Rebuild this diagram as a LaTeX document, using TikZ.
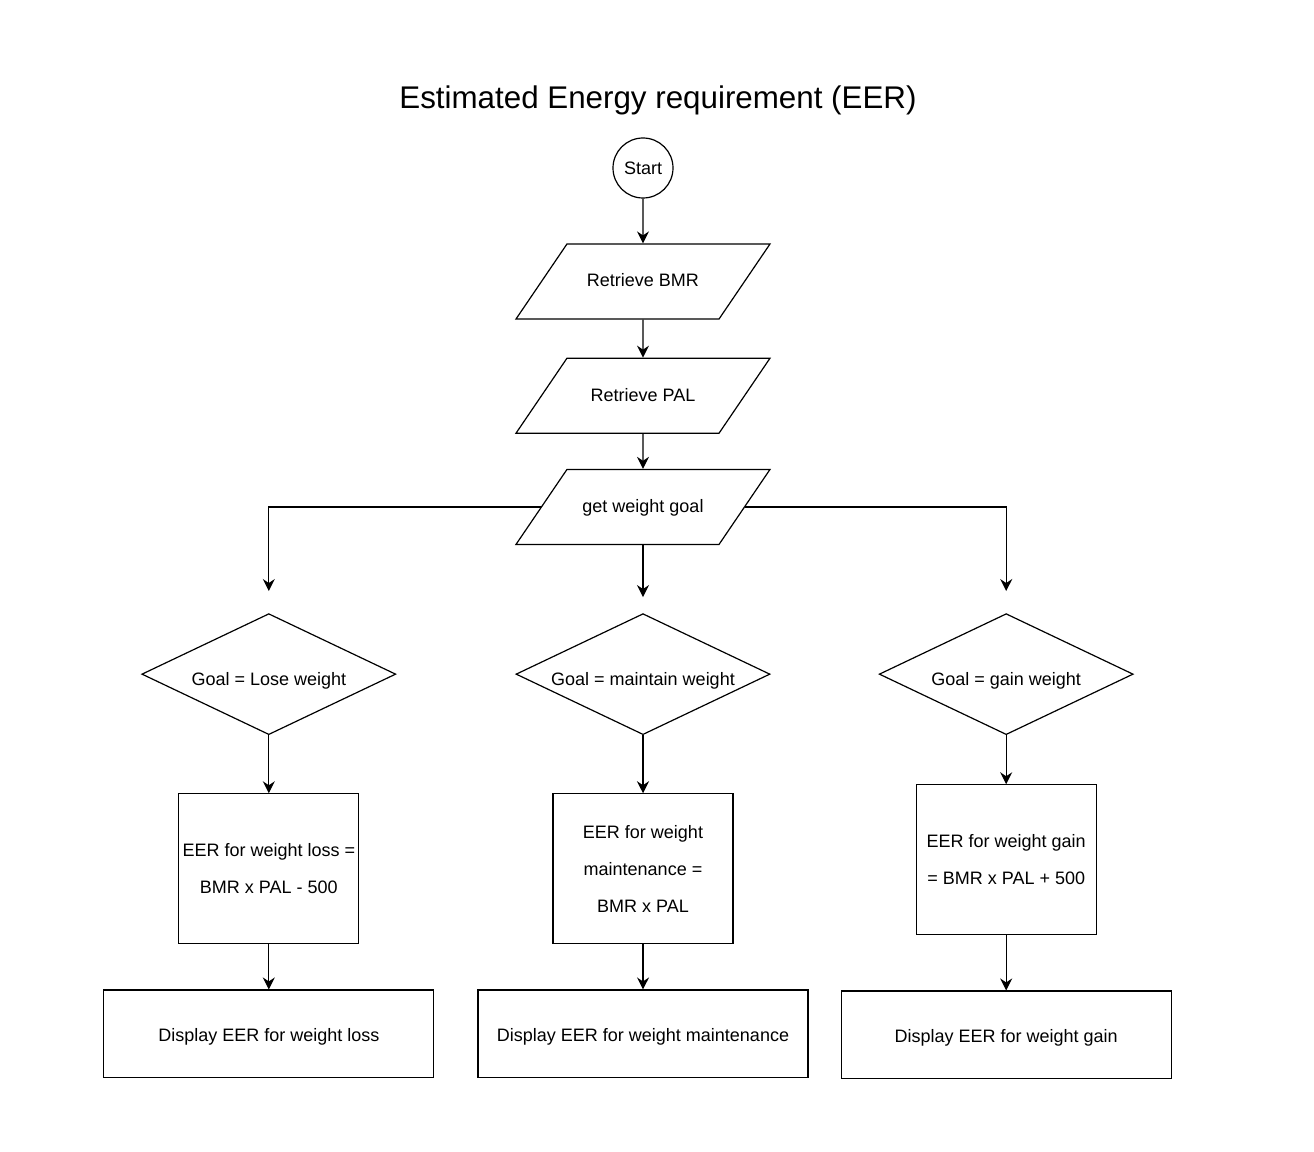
\documentclass[tikz,border=0pt]{standalone}
\usepackage{fontspec}
\setmainfont{Liberation Sans}
\usepackage{tikz}
\usetikzlibrary{positioning,arrows.meta,shapes.geometric}
\tikzset{
    flow start/.style={circle, draw, line width=0.9pt, minimum size=45pt, inner sep=0pt},
    flow io/.style={trapezium, trapezium stretches body=true, trapezium left angle=55.8, trapezium right angle=124.2, draw, line width=0.9pt, minimum width=190.5pt, text height=11pt, text depth=3pt, inner xsep=0pt, inner ysep=21.125pt},
    flow decision/.style={diamond, draw, line width=0.9pt, aspect=2.2, minimum width=190.5pt, minimum height=90.75pt, inner sep=0pt, text height=20pt, text depth=3pt},
    flow process/.style={rectangle, draw, line width=0.9pt, minimum width=135pt, minimum height=112.5pt, inner sep=2pt, align=center, text depth=0pt, font=\fontsize{13.5}{27.75}\selectfont},
    flow output/.style={rectangle, draw, line width=0.9pt, minimum width=247.5pt, minimum height=65.5pt, inner sep=2pt, text height=15pt, text depth=3pt},
    flow arrow/.style={-{Stealth[length=9pt, width=9pt, inset=3pt]}, line width=0.9pt}
}

\begin{document}
\begin{tikzpicture}[x=0.75pt, y=-0.75pt, font=\fontsize{13.5}{16}\selectfont]
\useasboundingbox (0,0) rectangle (1314,1152);

% Title
\node[font=\fontsize{23.5}{28}\selectfont] (title) at (658,100) {Estimated Energy requirement (EER)};

% Main column
\node[flow start] (start) at (643,168) {Start};
\node[flow io, below=33.6pt of start] (bmr) {Retrieve BMR};
\node[flow io, below=28.5pt of bmr] (pal) {Retrieve PAL};
\node[flow io, below=26.25pt of pal] (goal) {get weight goal};

% Decisions
\node[flow decision, below=51pt of goal] (maintain) {Goal = maintain weight};
\node[flow decision, left=89.25pt of maintain] (lose) {Goal = Lose weight};
\node[flow decision, right=81pt of maintain] (gain) {Goal = gain weight};

% Calculations
\node[flow process, below=43.5pt of lose] (calc loss) {EER for weight loss =\\BMR x PAL - 500};
\node[flow process, below=43.5pt of maintain] (calc maintain) {EER for weight\\maintenance =\\BMR x PAL};
\node[flow process, below=36.75pt of gain] (calc gain) {EER for weight gain\\= BMR x PAL + 500};

% Outputs
\node[flow output, below=33.75pt of calc loss] (show loss) {Display EER for weight loss};
\node[flow output, below=33.75pt of calc maintain] (show maintain) {Display EER for weight maintenance};
\node[flow output, below=41.25pt of calc gain] (show gain) {Display EER for weight gain};

% Free ends above the decisions
\coordinate[above=16.5pt of lose.north] (lose tip);
\coordinate[above=12pt of maintain.north] (maintain tip);
\coordinate[above=16.5pt of gain.north] (gain tip);

% Arrows
\draw[flow arrow] (start) -- (bmr);
\draw[flow arrow] (bmr) -- (pal);
\draw[flow arrow] (pal) -- (goal);
\draw[flow arrow] (goal.west) -| (lose tip);
\draw[flow arrow] (goal.south) -- (maintain tip);
\draw[flow arrow] (goal.east) -| (gain tip);
\draw[flow arrow] (lose) -- (calc loss);
\draw[flow arrow] (maintain) -- (calc maintain);
\draw[flow arrow] (gain) -- (calc gain);
\draw[flow arrow] (calc loss) -- (show loss);
\draw[flow arrow] (calc maintain) -- (show maintain);
\draw[flow arrow] (calc gain) -- (show gain);
\end{tikzpicture}
\end{document}
